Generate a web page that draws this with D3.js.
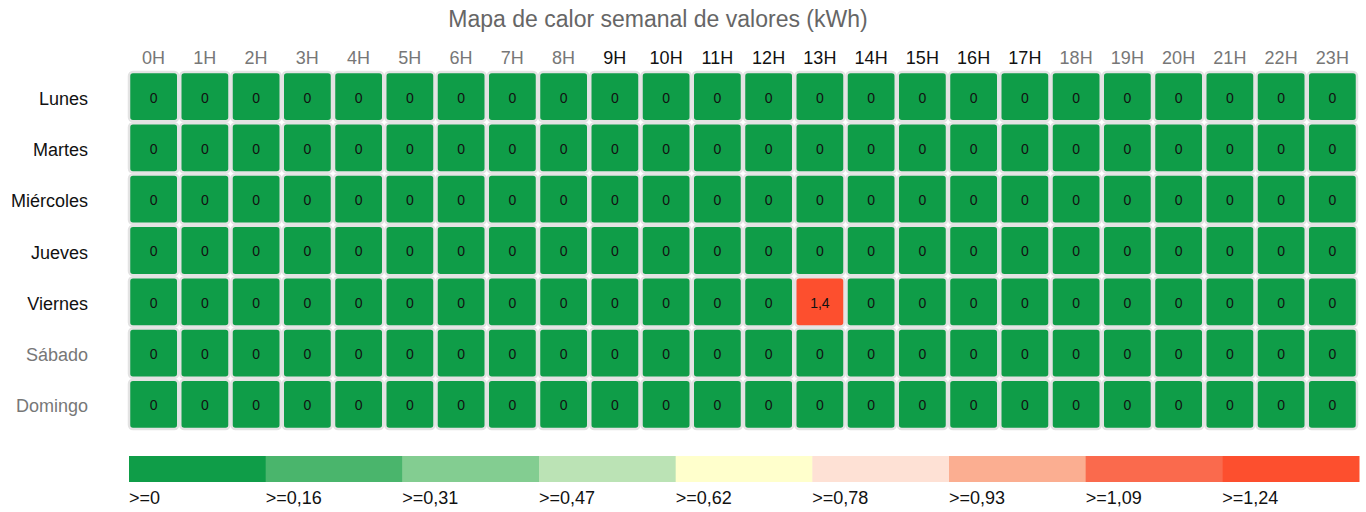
<!DOCTYPE html>
<html>
<head>
<meta charset="utf-8">
<script src="https://cdn.jsdelivr.net/npm/d3@7"></script>
<style>
  body { margin: 0; background: #fff; }
  text { font-family: "Liberation Sans", Arial, sans-serif; }
</style>
</head>
<body>
<div id="container"></div>
<script>
const days = ['Lunes', 'Martes', 'Miércoles', 'Jueves', 'Viernes', 'Sábado', 'Domingo'];
const hours = d3.range(24).map(h => `${h}H`);
// valores por día (filas) y hora (columnas)
const lunes     = [0,0,0,0,0,0,0,0,0,0,0,0,0,0,0,0,0,0,0,0,0,0,0,0];
const martes    = [0,0,0,0,0,0,0,0,0,0,0,0,0,0,0,0,0,0,0,0,0,0,0,0];
const miercoles = [0,0,0,0,0,0,0,0,0,0,0,0,0,0,0,0,0,0,0,0,0,0,0,0];
const jueves    = [0,0,0,0,0,0,0,0,0,0,0,0,0,0,0,0,0,0,0,0,0,0,0,0];
const viernes   = [0,0,0,0,0,0,0,0,0,0,0,0,0,1.4,0,0,0,0,0,0,0,0,0,0];
const sabado    = [0,0,0,0,0,0,0,0,0,0,0,0,0,0,0,0,0,0,0,0,0,0,0,0];
const domingo   = [0,0,0,0,0,0,0,0,0,0,0,0,0,0,0,0,0,0,0,0,0,0,0,0];
const values = [lunes, martes, miercoles, jueves, viernes, sabado, domingo];
const thresholds = [0, 0.16, 0.31, 0.47, 0.62, 0.78, 0.93, 1.09, 1.24];
const colors = ['#0f9d48', '#4ab56c', '#83cd91', '#bbe3b5', '#ffffcc', '#fee1d5', '#fbae91', '#fa6a4d', '#fd4f2e'];
const activeHours = [9, 17]; // horas en negro
const activeDays = 5;        // lunes-viernes en negro

const width = 1366, height = 512;
const margin = { left: 128, right: 8, top: 71, bottom: 82 };

const svg = d3.select('#container')
    .append('svg')
    .attr('width', width)
    .attr('height', height);

const x = d3.scaleBand()
    .domain(hours)
    .range([margin.left, width - margin.right]);

const y = d3.scaleBand()
    .domain(days)
    .range([margin.top, height - margin.bottom]);

const color = d3.scaleThreshold()
    .domain(thresholds.slice(1))
    .range(colors);

const fmt = v => String(v).replace('.', ',');

// título
svg.append('text')
    .attr('x', 658)
    .attr('y', 27)
    .attr('text-anchor', 'middle')
    .attr('font-size', 23)
    .attr('fill', '#666')
    .text('Mapa de calor semanal de valores (kWh)');

// etiquetas de horas
svg.append('g')
    .selectAll('text')
    .data(hours)
    .enter()
    .append('text')
    .attr('x', d => x(d) + x.bandwidth() / 2)
    .attr('y', 64)
    .attr('text-anchor', 'middle')
    .attr('font-size', 18)
    .attr('fill', (d, i) => (i >= activeHours[0] && i <= activeHours[1]) ? '#111' : '#777')
    .text(d => d);

// etiquetas de días
svg.append('g')
    .selectAll('text')
    .data(days)
    .enter()
    .append('text')
    .attr('x', 88)
    .attr('y', d => y(d) + y.bandwidth() / 2 + 8)
    .attr('text-anchor', 'end')
    .attr('font-size', 18)
    .attr('fill', (d, i) => i < activeDays ? '#111' : '#777')
    .text(d => d);

// celdas
const cells = [];
values.forEach((row, i) => row.forEach((v, j) => cells.push({ day: days[i], hour: hours[j], value: v })));

const cellGroups = svg.append('g')
    .selectAll('g')
    .data(cells)
    .enter()
    .append('g')
    .attr('transform', d => `translate(${x(d.hour)},${y(d.day)})`);

cellGroups.append('rect')
    .attr('x', 1)
    .attr('y', 1)
    .attr('width', x.bandwidth() - 2)
    .attr('height', y.bandwidth() - 2)
    .attr('rx', 4)
    .attr('fill', d => color(d.value))
    .attr('stroke', '#e3e3e3')
    .attr('stroke-width', 2.5);

cellGroups.append('text')
    .attr('x', x.bandwidth() / 2)
    .attr('y', y.bandwidth() / 2 + 6)
    .attr('text-anchor', 'middle')
    .attr('font-size', 14)
    .attr('fill', '#111')
    .text(d => fmt(d.value));

// leyenda
const legend = d3.scaleBand()
    .domain(thresholds)
    .range([129, 1359]);

const legendGroups = svg.append('g')
    .selectAll('g')
    .data(thresholds)
    .enter()
    .append('g');

legendGroups.append('rect')
    .attr('x', d => legend(d))
    .attr('y', 456)
    .attr('width', legend.bandwidth() + 0.5)
    .attr('height', 26)
    .attr('fill', d => color(d));

legendGroups.append('text')
    .attr('x', d => legend(d))
    .attr('y', 504)
    .attr('font-size', 18)
    .attr('fill', '#111')
    .text(d => '>=' + fmt(d));
</script>
</body>
</html>
